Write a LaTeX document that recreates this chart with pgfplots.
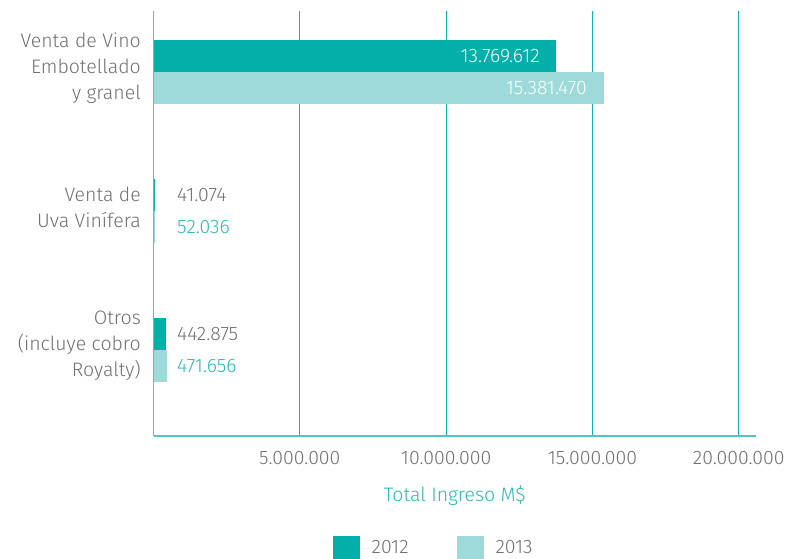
\documentclass[border=0pt]{standalone}
\usepackage{pgfplots}
\pgfplotsset{compat=1.18}
\usepackage{fontspec}
\setmainfont{Fira Sans Light}
\definecolor{c12}{HTML}{03AFA9}
\definecolor{c13}{HTML}{9DDAD9}
\definecolor{gridc}{HTML}{12B2AD}
\definecolor{axisc}{HTML}{4EC7C4}
\definecolor{txtgray}{HTML}{707070}
\definecolor{tealtxt}{HTML}{2CB8B3}
\newcommand{\fsz}{\fontsize{19.5}{26}\selectfont}
\begin{document}
\fsz
\begin{tikzpicture}
\useasboundingbox (0,0) rectangle (790pt,558pt);
\begin{axis}[
  at={(153.5pt,122pt)}, anchor=south west,
  scale only axis, width=602.5pt, height=425pt,
  xmin=0, xmax=20590000, ymin=-0.619, ymax=2.439,
  xbar, bar width=32pt,
  axis x line*=bottom, axis y line*=left,
  axis line style={draw=axisc, line width=1.5pt, -},
  xmajorgrids, grid style={draw=gridc, line width=1.2pt},
  major tick length=0pt,
  xtick={5000000,10000000,15000000,20000000},
  xticklabels={5.000.000,10.000.000,15.000.000,20.000.000},
  scaled x ticks=false,
  ticklabel style={font=\fsz},
  xticklabel style={text=txtgray, yshift=-9pt},
  ytick={0,1,2},
  yticklabels={{Otros\\(incluye cobro\\Royalty)},{Venta de\\Uva Vinífera},{Venta de Vino\\Embotellado\\y granel}},
  yticklabel style={align=right, text=txtgray, yshift=4pt, xshift=-6pt},
  xlabel={Total Ingreso M\$}, xlabel style={font=\fsz, text=tealtxt, yshift=-7pt},
  point meta=explicit symbolic,
  nodes near coords={\pgfplotspointmeta},
  every node near coord/.append style={font=\fsz},
  legend style={at={(0.465,-0.263)}, anchor=center, draw=none, fill=none, legend columns=2,
    font=\fsz, /tikz/every even column/.append style={column sep=46pt}, text=txtgray},
  legend image code/.code={\fill[#1] (0pt,-11pt) rectangle (27pt,13pt); \path (27pt,0pt) -- (37pt,0pt);},
]
\addplot[fill=c12, draw=none, bar shift=16pt,
  every node near coord/.append style={anchor=east, text=white, xshift=-10pt}]
  coordinates {(13769612,2) [13.769.612]};
\addlegendentry{2012}
\addplot[fill=c13, draw=none, bar shift=-16pt,
  every node near coord/.append style={anchor=east, text=white, xshift=-10pt}]
  coordinates {(15381470,2) [15.381.470]};
\addlegendentry{2013}
\addplot[fill=c12, draw=none, bar shift=16pt, forget plot,
  every node near coord/.append style={anchor=west, inner sep=0pt, text=txtgray, xshift=22.3pt}]
  coordinates {(41074,1) [41.074]};
\addplot[fill=c13, draw=none, bar shift=-16pt, forget plot,
  every node near coord/.append style={anchor=west, inner sep=0pt, text=tealtxt, xshift=22pt}]
  coordinates {(52036,1) [52.036]};
\addplot[fill=c12, draw=none, bar shift=16pt, forget plot,
  every node near coord/.append style={anchor=west, inner sep=0pt, text=txtgray, xshift=10.5pt}]
  coordinates {(442875,0) [442.875]};
\addplot[fill=c13, draw=none, bar shift=-16pt, forget plot,
  every node near coord/.append style={anchor=west, inner sep=0pt, text=tealtxt, xshift=9.7pt}]
  coordinates {(471656,0) [471.656]};
\end{axis}
\end{tikzpicture}
\end{document}
